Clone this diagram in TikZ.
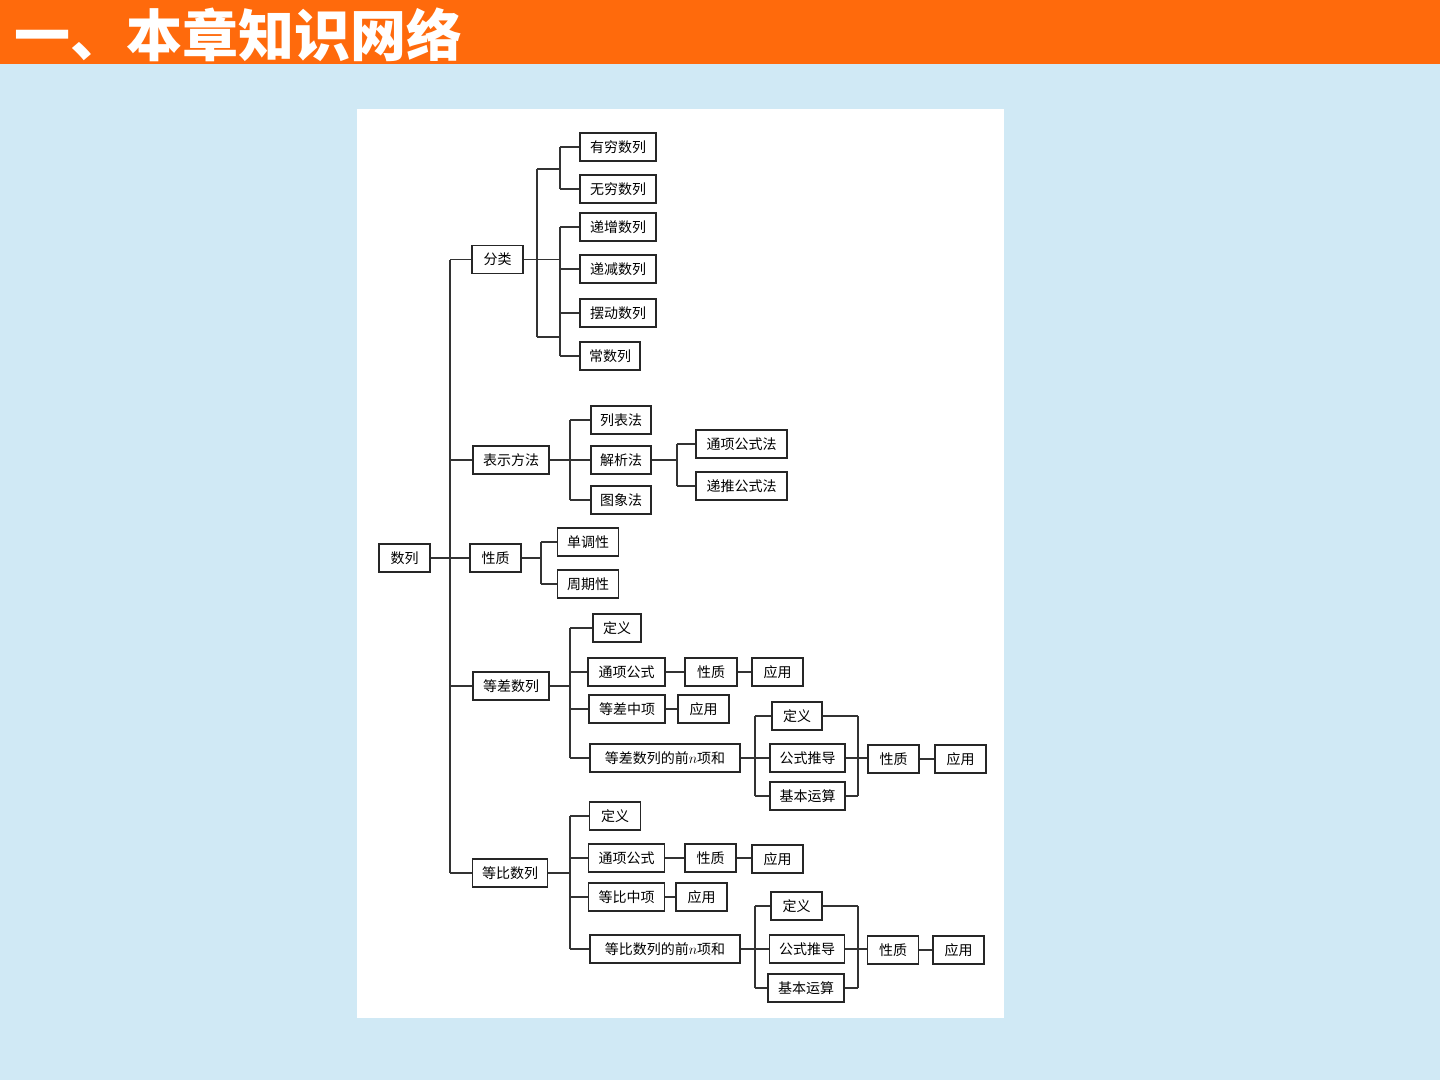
\documentclass[tikz,border=0pt]{standalone}
\usepackage{fontspec}
\newfontfamily\cjk{Noto Sans CJK SC}
\usetikzlibrary{calc}
\definecolor{bgblue}{HTML}{D0E9F5}
\definecolor{band}{HTML}{FF6A0C}
\begin{document}
\begin{tikzpicture}[x=1pt,y=-1pt,
  bx/.style={draw=black!85, line width=1.1pt, minimum height=28pt, inner sep=0pt, fill=white,
     font=\cjk\fontsize{14}{15}\selectfont},
  ln/.style={line width=1.1pt, draw=black!80}]
\useasboundingbox (0,0) rectangle (1440,1080);
\fill[bgblue] (0,0) rectangle (1440,1080);
\fill[band] (0,0) rectangle (1440,64);
\fill[white] (357,109) rectangle (1004,1018);
\node[font=\cjk\bfseries\fontsize{56}{58}\selectfont, text=white, anchor=west, inner sep=0pt] (title) at (14,35) {一、本章知识网络};

% level 0 and 1
\node[bx, minimum width=51] (root) at (404.5,558) {数列};
\node[bx, minimum width=51] (fl) at (497.5,259.5) {分类};
\node[bx, minimum width=76] (bs) at (511,460) {表示方法};
\node[bx, minimum width=51] (xz) at (495.5,558) {性质};
\node[bx, minimum width=76] (dc) at (511,686) {等差数列};
\node[bx, minimum width=75] (db) at (510,873) {等比数列};

% 分类
\node[bx, minimum width=76] (yq) at (618,147) {有穷数列};
\node[bx, minimum width=76] (wq) at (618,189) {无穷数列};
\node[bx, minimum width=76] (dz) at (618,227) {递增数列};
\node[bx, minimum width=76] (dj) at (618,269) {递减数列};
\node[bx, minimum width=76] (bd) at (618,313) {摆动数列};
\node[bx, minimum width=60] (cs) at (610,356) {常数列};

% 表示方法
\node[bx, minimum width=60] (lb) at (621,420) {列表法};
\node[bx, minimum width=60] (jx) at (621,460) {解析法};
\node[bx, minimum width=60] (tx) at (621,500) {图象法};
\node[bx, minimum width=91] (tg) at (741.5,444) {通项公式法};
\node[bx, minimum width=91] (dt) at (741.5,486) {递推公式法};

% 性质
\node[bx, minimum width=61] (dd) at (588,542) {单调性};
\node[bx, minimum width=61] (zq) at (588,584) {周期性};

% 等差数列
\node[bx, minimum width=48] (d1) at (617,628) {定义};
\node[bx, minimum width=77] (d2) at (626.5,672) {通项公式};
\node[bx, minimum width=52] (d2b) at (711,672) {性质};
\node[bx, minimum width=51] (d2c) at (777.5,672) {应用};
\node[bx, minimum width=76] (d3) at (627,709) {等差中项};
\node[bx, minimum width=51] (d3b) at (703.5,709) {应用};
\node[bx, minimum width=150] (d4) at (665,758) {等差数列的前$n$项和};
\node[bx, minimum width=50] (e1) at (797,716) {定义};
\node[bx, minimum width=75] (e2) at (807.5,758) {公式推导};
\node[bx, minimum width=75] (e3) at (807.5,796) {基本运算};
\node[bx, minimum width=51] (e4) at (893.5,759) {性质};
\node[bx, minimum width=51] (e5) at (960.5,759) {应用};

% 等比数列
\node[bx, minimum width=51] (f1) at (615,816) {定义};
\node[bx, minimum width=76] (f2) at (626.5,858) {通项公式};
\node[bx, minimum width=51] (f2b) at (710.5,858) {性质};
\node[bx, minimum width=51] (f2c) at (777.5,859) {应用};
\node[bx, minimum width=76] (f3) at (626.5,897) {等比中项};
\node[bx, minimum width=51] (f3b) at (701.5,897) {应用};
\node[bx, minimum width=150] (f4) at (665,949) {等比数列的前$n$项和};
\node[bx, minimum width=51] (g1) at (796.5,906) {定义};
\node[bx, minimum width=75] (g2) at (807,949) {公式推导};
\node[bx, minimum width=76] (g3) at (806,988) {基本运算};
\node[bx, minimum width=51] (g4) at (893,950) {性质};
\node[bx, minimum width=51] (g5) at (958.5,950) {应用};

% bus coordinates
\coordinate (T) at (450,0);
\coordinate (A1) at (537,169);
\coordinate (A2) at (537,337);
\coordinate (B) at (560,0);
\coordinate (C) at (570,0);
\coordinate (D) at (677,0);
\coordinate (E) at (541,0);
\coordinate (L) at (755,0);
\coordinate (R) at (858,0);

% trunk
\draw[ln] (fl.west -| T) -- (db.west -| T);
\draw[ln] (root.east) -- (root.east -| T);
\foreach \n in {fl,bs,xz,dc,db} \draw[ln] (\n.west) -- (\n.west -| T);

% 分类
\draw[ln] (fl.east) -- (fl.east -| B);
\draw[ln] (A1) -- (A2);
\draw[ln] (A1) -- (A1 -| B);
\draw[ln] (A2) -- (A2 -| B);
\draw[ln] (yq.west -| B) -- (wq.west -| B);
\draw[ln] (dz.west -| B) -- (cs.west -| B);
\foreach \n in {yq,wq,dz,dj,bd,cs} \draw[ln] (\n.west) -- (\n.west -| B);

% 表示方法
\draw[ln] (bs.east) -- (bs.east -| C);
\draw[ln] (lb.west -| C) -- (tx.west -| C);
\foreach \n in {lb,jx,tx} \draw[ln] (\n.west) -- (\n.west -| C);
\draw[ln] (jx.east) -- (jx.east -| D);
\draw[ln] (tg.west -| D) -- (dt.west -| D);
\foreach \n in {tg,dt} \draw[ln] (\n.west) -- (\n.west -| D);

% 性质
\draw[ln] (xz.east) -- (xz.east -| E);
\draw[ln] (dd.west -| E) -- (zq.west -| E);
\foreach \n in {dd,zq} \draw[ln] (\n.west) -- (\n.west -| E);

% 等差数列
\draw[ln] (dc.east) -- (dc.east -| C);
\draw[ln] (d1.west -| C) -- (d4.west -| C);
\foreach \n in {d1,d2,d3,d4} \draw[ln] (\n.west) -- (\n.west -| C);
\draw[ln] (d2) -- (d2b);
\draw[ln] (d2b) -- (d2c);
\draw[ln] (d3) -- (d3b);
\draw[ln] (d4) -- (e2);
\draw[ln] (e1.west -| L) -- (e3.west -| L);
\foreach \n in {e1,e3} \draw[ln] (\n.west) -- (\n.west -| L);
\draw[ln] (e1.east -| R) -- (e3.east -| R);
\foreach \n in {e1,e3} \draw[ln] (\n.east) -- (\n.east -| R);
\draw[ln] (e2.east) -- (e2.east -| e4.west);
\draw[ln] (e4) -- (e5);

% 等比数列
\draw[ln] (db.east) -- (db.east -| C);
\draw[ln] (f1.west -| C) -- (f4.west -| C);
\foreach \n in {f1,f2,f3,f4} \draw[ln] (\n.west) -- (\n.west -| C);
\draw[ln] (f2) -- (f2b);
\draw[ln] (f2b.east) -- (f2b.east -| f2c.west);
\draw[ln] (f3) -- (f3b);
\draw[ln] (f4) -- (g2);
\draw[ln] (g1.west -| L) -- (g3.west -| L);
\foreach \n in {g1,g3} \draw[ln] (\n.west) -- (\n.west -| L);
\draw[ln] (g1.east -| R) -- (g3.east -| R);
\foreach \n in {g1,g3} \draw[ln] (\n.east) -- (\n.east -| R);
\draw[ln] (g2.east) -- (g2.east -| g4.west);
\draw[ln] (g4) -- (g5);
\end{tikzpicture}
\end{document}
